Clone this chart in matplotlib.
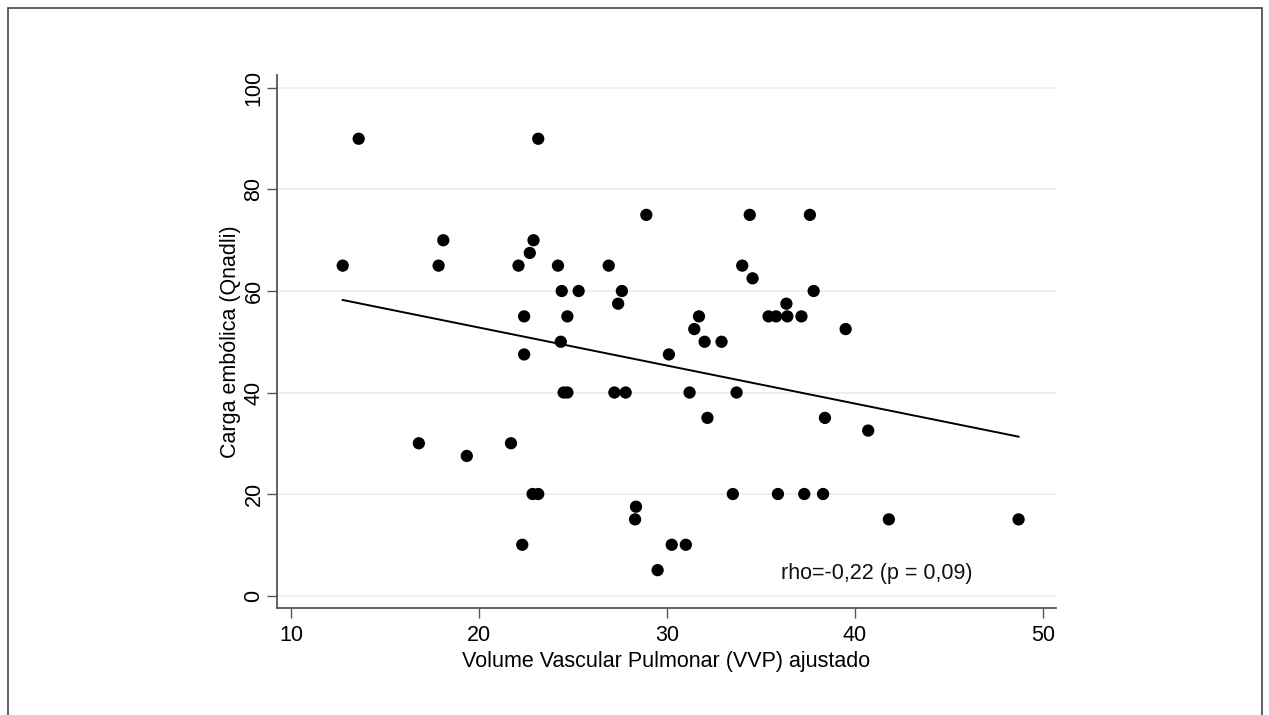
import numpy as np
import matplotlib
matplotlib.use("Agg")
import matplotlib.pyplot as plt
from matplotlib.patches import Rectangle

plt.rcParams['font.family'] = ['Liberation Sans', 'DejaVu Sans']

vvp = [13.6, 23.15, 18.1, 22.9, 22.7, 12.75, 17.85, 22.1, 22.4, 28.9,
       34.4, 37.6, 24.2, 26.9, 34.0, 34.55, 24.4, 25.3, 27.6, 37.8,
       27.4, 36.35, 24.7, 31.7, 35.4, 35.8, 36.4, 37.15, 31.45, 39.5,
       24.35, 32.0, 32.9, 22.4, 30.1, 24.5, 24.7, 27.2, 27.8, 31.2,
       33.7, 32.15, 38.4, 40.7, 16.8, 21.7, 19.35, 22.85, 23.15, 33.5,
       35.9, 37.3, 38.3, 28.35, 28.3, 41.8, 48.7, 22.3, 30.25, 31.0,
       29.5]
qanadli = [90, 90, 70, 70, 67.5, 65, 65, 65, 55, 75,
           75, 75, 65, 65, 65, 62.5, 60, 60, 60, 60,
           57.5, 57.5, 55, 55, 55, 55, 55, 55, 52.5, 52.5,
           50, 50, 50, 47.5, 47.5, 40, 40, 40, 40, 40,
           40, 35, 35, 32.5, 30, 30, 27.5, 20, 20, 20,
           20, 20, 20, 17.5, 15, 15, 15, 10, 10, 10,
           5]

x_ticks = [10, 20, 30, 40, 50]
y_ticks = [0, 20, 40, 60, 80, 100]
annot = "rho=-0,22 (p = 0,09)"

fig = plt.figure(figsize=(12.69, 7.15), dpi=100)
W, H = 1269, 715
# outer frame
fig.patches.append(Rectangle((7.5 / W, -0.01), (1262 - 7.5) / W, 1 - 8 / H + 0.01,
                             transform=fig.transFigure, fill=False,
                             edgecolor='#444444', linewidth=1.2))

ax = fig.add_axes([277 / W, 1 - 608 / H, (1056 - 277) / W, (608 - 75) / H])
ax.set_xlim(9.255, 50.69)
ax.set_ylim(-2.46, 102.56)

for yt in y_ticks:
    ax.axhline(yt, color='#e8f0f2', linewidth=1.3, zorder=0)

ax.scatter(vvp, qanadli, s=78, color='black', edgecolors='none', zorder=3)

xa = np.array(vvp)
ya = np.array(qanadli)
b, a = np.polyfit(xa, ya, 1)
xs = np.array([xa.min(), xa.max()])
ax.plot(xs, a + b * xs, color='black', linewidth=1.4, zorder=2)

ax.text(36.06, 4.4, annot, fontsize=15.5, va='center', ha='left', color='#111111')

for s in ['top', 'right']:
    ax.spines[s].set_visible(False)
for s in ['left', 'bottom']:
    ax.spines[s].set_color('#555555')
    ax.spines[s].set_linewidth(1.3)

ax.set_xticks(x_ticks)
ax.set_yticks(y_ticks)
ax.tick_params(axis='both', direction='out', length=7, width=1.0, color='#555555',
               labelsize=15.5)
ax.tick_params(axis='x', pad=5)
ax.tick_params(axis='y', pad=2)
for lab in ax.get_yticklabels():
    lab.set_rotation(90)
    lab.set_va('center')

ax.set_xlabel("Volume Vascular Pulmonar (VVP) ajustado", fontsize=15.5, labelpad=4)
ax.set_ylabel("Carga embólica (Qnadli)", fontsize=15.5, labelpad=2)

fig.savefig("out.png", dpi=100)
